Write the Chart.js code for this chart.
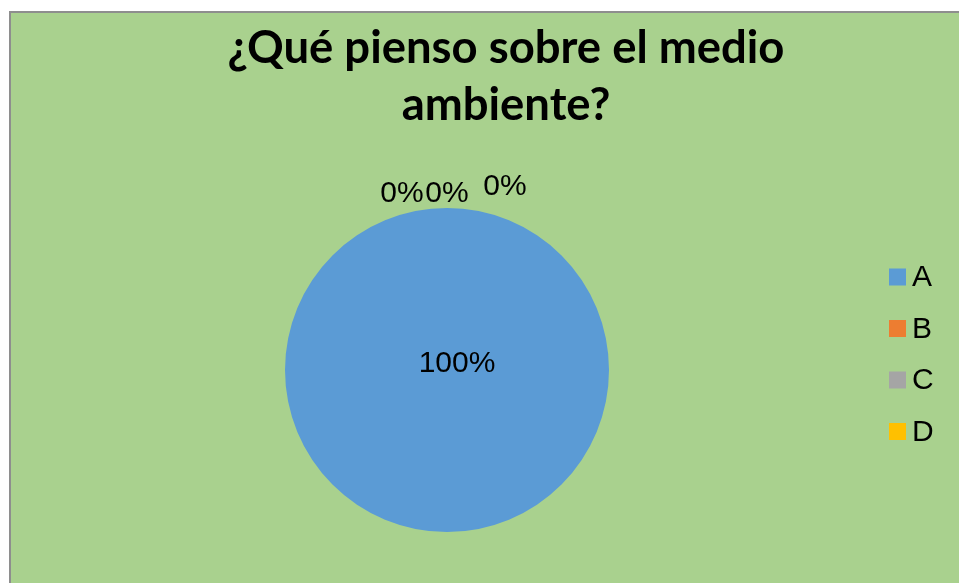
<!DOCTYPE html>
<html>
<head>
<meta charset="utf-8">
<script src="https://cdn.jsdelivr.net/npm/chart.js@4"></script>
<style>
  html, body { margin: 0; padding: 0; background: #ffffff; overflow: hidden; }
  #frame {
    position: absolute; left: 9px; top: 11px; width: 1000px; height: 1000px;
    background: #a9d18e; border-left: 2px solid #8e8e8e; border-top: 2px solid #8e8e8e;
  }
  #wrap { position: absolute; left: 0; top: 0; width: 959px; height: 583px; }
</style>
</head>
<body>
<div id="frame"></div>
<div id="wrap"><canvas id="pieChart"></canvas></div>
<script>
const titleLines = ['¿Qué pienso sobre el medio', 'ambiente?'];
const categories = ['A', 'B', 'C', 'D'];
const values = [100, 0, 0, 0];
const colors = ['#5b9bd5', '#ed7d31', '#a5a5a5', '#ffc000'];

// label offsets relative to pie centre / top edge (Excel nudges the 0% labels apart)
const labelNudge = [[10, -8], [-45, -6], [0, -6], [58, -13]];

const drawExtras = {
  id: 'drawExtras',
  afterDraw(chart) {
    const c = chart.ctx;
    c.save();
    c.fillStyle = '#000';

    // title
    c.textAlign = 'center';
    c.textBaseline = 'alphabetic';
    let size = 40;
    c.font = 'bold ' + size + 'px Lato, "Open Sans", sans-serif';
    const w = c.measureText(titleLines[0]).width;
    size = size * 557 / w;
    c.font = 'bold ' + size + 'px Lato, "Open Sans", sans-serif';
    c.fillText(titleLines[0], 506, 63);
    c.fillText(titleLines[1], 506, 120);

    // data labels
    const meta = chart.getDatasetMeta(0);
    const total = values.reduce((a, b) => a + b, 0);
    c.font = '30px "Liberation Sans", Arial, sans-serif';
    meta.data.forEach((arc, i) => {
      const pct = Math.round(values[i] / total * 100) + '%';
      let x, y;
      if (values[i] === total) {
        x = arc.x + labelNudge[i][0];
        y = arc.y + labelNudge[i][1] + 10;
        c.textBaseline = 'alphabetic';
      } else {
        x = arc.x + labelNudge[i][0];
        y = arc.y - arc.outerRadius + labelNudge[i][1];
        c.textBaseline = 'alphabetic';
      }
      c.fillText(pct, x, y);
    });

    // legend
    c.textAlign = 'left';
    c.textBaseline = 'middle';
    c.font = '30px "Liberation Sans", Arial, sans-serif';
    categories.forEach((lab, i) => {
      const cy = 277 + i * 51.5;
      c.fillStyle = colors[i];
      c.fillRect(889, cy - 8.5, 17, 17);
      c.fillStyle = '#000';
      c.fillText(lab, 912, cy + 1);
    });
    c.restore();
  }
};

new Chart(document.getElementById('pieChart'), {
  type: 'pie',
  data: {
    labels: categories,
    datasets: [{
      data: values,
      backgroundColor: colors,
      borderWidth: 0
    }]
  },
  options: {
    responsive: true,
    maintainAspectRatio: false,
    animation: false,
    layout: { padding: { left: 285, right: 350, top: 208, bottom: 51 } },
    plugins: {
      legend: { display: false },
      title: { display: false },
      tooltip: { enabled: false }
    }
  },
  plugins: [drawExtras]
});
</script>
</body>
</html>
